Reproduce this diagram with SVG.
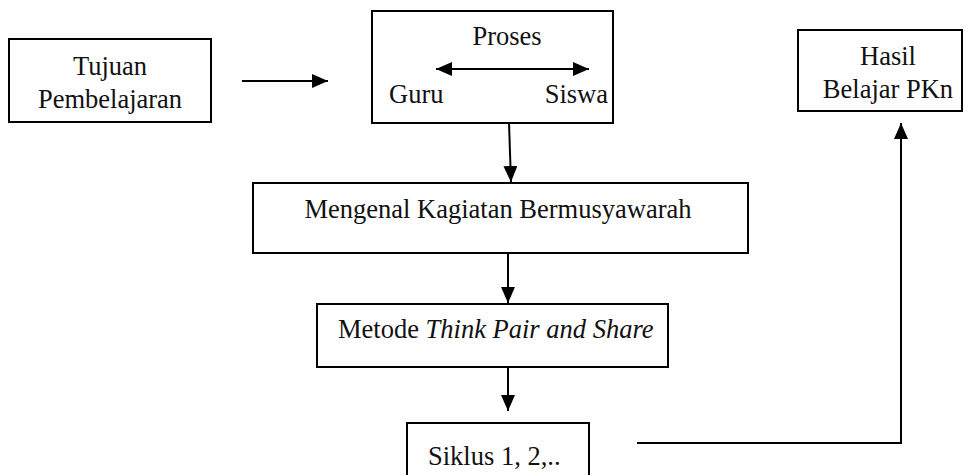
<svg xmlns="http://www.w3.org/2000/svg" width="970" height="475" viewBox="0 0 970 475">
<style>
.box{fill:#fff;stroke:#000;stroke-width:2}
.t{font-family:"Liberation Serif","Times New Roman",serif;font-size:26.5px;fill:#111}
.c{stroke:#000;stroke-width:2;fill:none}
</style>
<defs>
<marker id="ah" viewBox="0 0 16 14" refX="16" refY="7" markerWidth="16" markerHeight="14" markerUnits="userSpaceOnUse" orient="auto-start-reverse">
<path d="M0,0 L16,7 L0,14 z" fill="#000"/>
</marker>
</defs>
<rect width="970" height="475" fill="#fff"/>
<g id="tujuan">
<rect class="box" x="9" y="39" width="202" height="83"/>
<text class="t" x="110" y="75" text-anchor="middle">Tujuan</text>
<text class="t" x="110" y="108" text-anchor="middle">Pembelajaran</text>
</g>
<g id="proses">
<rect class="box" x="372" y="11" width="241" height="112"/>
<text class="t" x="507" y="45" text-anchor="middle">Proses</text>
<text class="t" x="389" y="103">Guru</text>
<text class="t" x="608" y="103" text-anchor="end">Siswa</text>
</g>
<g id="hasil">
<rect class="box" x="798" y="30" width="164" height="81"/>
<text class="t" x="888" y="65" text-anchor="middle">Hasil</text>
<text class="t" x="888" y="98" text-anchor="middle">Belajar PKn</text>
</g>
<g id="mengenal">
<rect class="box" x="253" y="183" width="495" height="70"/>
<text class="t" x="498" y="218" text-anchor="middle">Mengenal Kagiatan Bermusyawarah</text>
</g>
<g id="metode">
<rect class="box" x="317" y="304" width="351" height="63"/>
<text class="t" x="338" y="338">Metode <tspan font-style="italic">Think Pair and Share</tspan></text>
</g>
<g id="siklus">
<rect class="box" x="407" y="423" width="182" height="60"/>
<text class="t" x="428" y="465">Siklus 1, 2,..</text>
</g>
<g id="connectors">
<line class="c" x1="242" y1="81" x2="328" y2="81" marker-end="url(#ah)"/>
<line class="c" x1="436" y1="69" x2="589" y2="69" marker-start="url(#ah)" marker-end="url(#ah)"/>
<line class="c" x1="509" y1="123" x2="511" y2="182" marker-end="url(#ah)"/>
<line class="c" x1="508" y1="253" x2="508" y2="303" marker-end="url(#ah)"/>
<line class="c" x1="508" y1="367" x2="508" y2="411" marker-end="url(#ah)"/>
<polyline class="c" points="637,443 901,443 901,123" marker-end="url(#ah)"/>
</g>
</svg>
